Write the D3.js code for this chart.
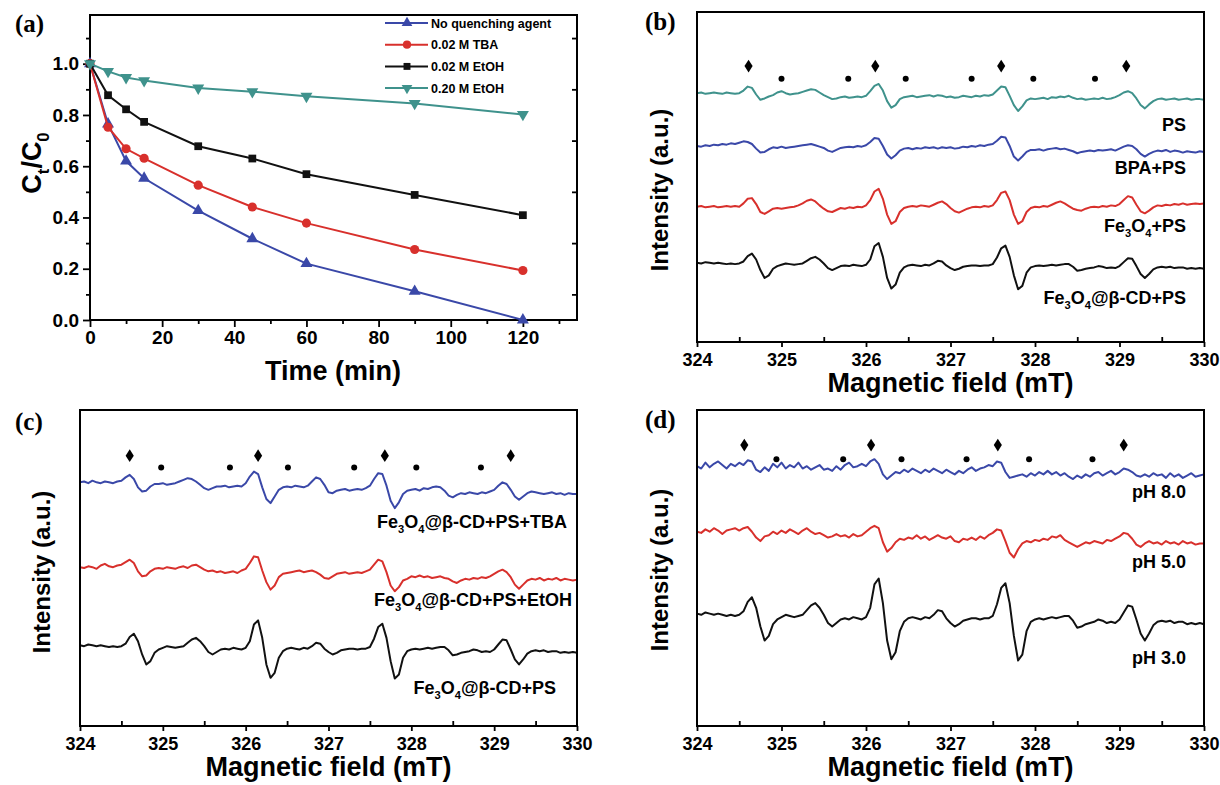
<!DOCTYPE html>
<html><head><meta charset="utf-8">
<script src="https://cdn.jsdelivr.net/npm/d3@7/dist/d3.min.js"></script>
<style>
body{margin:0;background:#fff;}
svg text{font-family:Arial,"Liberation Sans",sans-serif;font-weight:bold;fill:#000;}
</style></head><body>
<svg id="fig" width="1220" height="785"></svg>
<script>
// ---------- (a) BPA removal with radical scavengers ----------
const times = [0, 5, 10, 15, 30, 45, 60, 90, 120];
const noQuencher = [1.0, 0.765, 0.62, 0.553, 0.427, 0.317, 0.22, 0.112, 0.0];
const tba002     = [1.0, 0.752, 0.668, 0.631, 0.526, 0.441, 0.378, 0.275, 0.193];
const etoh002    = [1.0, 0.877, 0.822, 0.773, 0.678, 0.63, 0.569, 0.488, 0.409];
const etoh020    = [1.0, 0.97, 0.946, 0.934, 0.905, 0.891, 0.873, 0.845, 0.802];
const seriesNames = ["No quenching agent", "0.02 M TBA", "0.02 M EtOH", "0.20 M EtOH"];
const timeTicks = [0, 20, 40, 60, 80, 100, 120];
const timeMinor = [10, 30, 50, 70, 90, 110, 130];
const ratioTicks = [0.0, 0.2, 0.4, 0.6, 0.8, 1.0];
const ratioMinor = [0.1, 0.3, 0.5, 0.7, 0.9, 1.1];

// ---------- EPR spectra (DMPO adducts), sampled every 0.05 mT from 324 mT ----------
const fieldStart = 324, fieldStep = 0.05;
const fieldTicks = [324, 325, 326, 327, 328, 329, 330];
const fieldMinor = [324.5, 325.5, 326.5, 327.5, 328.5, 329.5];

const specCdPs = [
  3, 2, 4, 3, 2, 3, 2, 1, 2, 1,
  2, 5, 13, 17, 8, -8, -20, -16, -6, -2,
  0, 2, 1, 0, 1, 2, 6, 10, 12, 8,
  2, -5, -8, -5, -2, -1, -2, 0, -1, -2,
  0, 8, 28, 33, 12, -20, -36, -30, -12, -4,
  -1, 0, -1, -2, 0, -1, 2, 6, 5, -1,
  -5, -8, -6, -3, -2, -1, -1, -2, -1, -1,
  1, 11, 25, 29, 12, -16, -37, -32, -12, -4,
  -2, -1, -2, -1, 0, -1, 0, 1, 1, -3,
  -9, -8, -6, -5, -4, -2, -3, -5, -4, -5,
  -2, 4, 10, 9, -2, -14, -20, -14, -7, -4,
  -3, -4, -3, -5, -4, -4, -6, -5, -6, -5,
  -6];
const specPs = [
  0, 1, -1, 0, 1, 0, -1, 1, 0, -1,
  0, 4, 10, 8, -2, -10, -8, -5, -3, 1,
  3, 0, -2, -1, 0, 2, 4, 6, 5, 1,
  -3, -6, -9, -8, -6, -5, -7, -6, -5, -6,
  -4, 3, 11, 14, 4, -12, -22, -18, -9, -6,
  -5, -4, -6, -5, -4, -3, -5, -3, -4, -6,
  -5, -7, -6, -4, -5, -6, -4, -5, -3, -4,
  -2, 4, 10, 9, -4, -18, -27, -20, -11, -8,
  -9, -8, -7, -9, -6, -7, -5, -6, -4, -7,
  -9, -8, -10, -9, -8, -9, -7, -9, -8, -6,
  -3, 1, 3, 0, -8, -18, -23, -17, -12, -9,
  -8, -10, -9, -8, -10, -9, -8, -10, -9, -9,
  -10];
const specBpaPs = [
  0, -1, 1, 0, 2, 1, 3, 2, 4, 3,
  5, 7, 6, 3, -4, -10, -9, -5, -2, -3,
  -1, -3, -2, -1, 0, 1, 2, 3, 1, -1,
  -3, -7, -9, -6, -3, -2, -1, -2, 0, -1,
  1, 6, 12, 11, 0, -13, -19, -14, -7, -4,
  -3, -5, -3, -4, -2, -3, -2, -4, -2, -3,
  -2, -4, -3, -1, -2, 0, -1, 1, 0, 2,
  3, 8, 14, 13, 0, -16, -22, -16, -9, -6,
  -6, -5, -7, -5, -4, -3, -5, -4, -6, -8,
  -11, -9, -8, -7, -8, -6, -7, -6, -5, -7,
  -4, -1, 1, 0, -5, -12, -16, -12, -9, -7,
  -8, -6, -9, -7, -8, -10, -8, -9, -10, -8,
  -9];
const specFePs = [
  0, 1, -1, 0, 1, -1, 0, 1, 0, 1,
  0, 5, 12, 13, 4, -8, -11, -7, -3, -2,
  -3, -2, -1, 0, 2, 5, 9, 11, 8, 2,
  -3, -7, -8, -5, -2, -3, -1, -2, 0, -1,
  2, 10, 23, 27, 12, -12, -26, -22, -8, -2,
  0, 1, 0, 2, 1, 0, 3, 6, 8, 4,
  -2, -7, -9, -6, -3, -1, 0, -1, 1, 0,
  2, 10, 21, 23, 10, -12, -26, -22, -8, -2,
  0, -1, 1, 0, 3, 6, 8, 5, 1, -3,
  -5, -6, -3, -1, 0, -1, 1, 0, 2, 1,
  4, 10, 16, 14, 3, -7, -10, -6, -1, 2,
  1, 3, 2, 4, 3, 5, 3, 4, 5, 4,
  5];
const specTba = [
  0, 1, -1, 2, 0, -1, 1, 0, -1, 1,
  2, 6, 9, 4, -6, -11, -10, -5, -2, -2,
  -1, -3, -2, -1, 1, 3, 5, 4, 1, -3,
  -7, -9, -7, -5, -5, -4, -6, -5, -4, -5,
  -1, 7, 13, 10, -6, -20, -25, -17, -9, -6,
  -5, -6, -4, -5, -6, -4, 1, 6, 4, -3,
  -12, -13, -10, -9, -8, -10, -9, -8, -9, -7,
  -4, 4, 11, 10, -4, -22, -31, -24, -14, -10,
  -9, -8, -10, -7, -8, -6, -5, -6, -10, -16,
  -18, -15, -13, -14, -12, -13, -14, -12, -13, -11,
  -9, -4, 0, -2, -9, -17, -21, -17, -13, -11,
  -12, -13, -14, -13, -12, -14, -13, -15, -13, -14,
  -14];
const specEtoh = [
  0, -1, 1, 0, -2, 2, 4, 1, 0, 2,
  3, 6, 9, 5, -5, -11, -10, -5, -2, -1,
  -2, 0, -1, -2, 0, 1, -1, 2, 3, 0,
  -3, -5, -4, -6, -5, -7, -6, -5, -7, -4,
  -2, 5, 13, 12, -4, -18, -27, -22, -12, -8,
  -7, -6, -5, -4, -6, -5, -4, -6, -9, -13,
  -14, -11, -8, -7, -6, -8, -7, -6, -7, -5,
  -3, 3, 9, 7, -6, -22, -29, -24, -16, -14,
  -11, -12, -10, -12, -11, -13, -12, -11, -13, -14,
  -17, -19, -16, -14, -15, -13, -14, -12, -13, -11,
  -8, -5, -3, -6, -12, -21, -26, -21, -16, -14,
  -15, -13, -16, -14, -15, -13, -16, -14, -15, -16,
  -15];
const specPh8 = [
  0, -2, 3, -1, 2, 4, 1, -2, 2, 0,
  3, 1, 5, 4, -3, -5, -1, -4, 2, -1,
  3, -2, 1, -1, 3, -2, 0, -3, -1, 1,
  -3, -2, -4, 0, -3, 1, 3, -1, 0, 2,
  0, 4, 6, 2, -7, -11, -8, -5, -6, -3,
  -5, -2, -4, -6, -3, -5, -2, -4, -6, -3,
  -5, -7, -4, -6, -3, -1, -4, -2, -1, 1,
  0, 4, 3, -5, -10, -9, -8, -7, -9, -6,
  -8, -5, -7, -4, -7, -5, -8, -6, -9, -11,
  -8, -10, -7, -9, -6, -5, -8, -6, -4, -7,
  -5, -2, -3, -5, -8, -9, -7, -9, -6, -8,
  -7, -10, -6, -9, -7, -10, -8, -6, -9, -8,
  -7];
const specPh5 = [
  0, -1, 2, 0, 3, 1, -2, 1, 2, 3,
  1, 3, 4, 0, -5, -8, -4, -3, 0, -2,
  1, -1, 2, 0, -2, 1, 3, 0, -2, -1,
  -3, -5, -4, -2, -4, -3, -5, -2, -4, -3,
  0, 3, 5, 3, -9, -17, -14, -9, -6, -7,
  -5, -6, -3, -6, -4, -7, -5, -3, -5, -6,
  -4, -8, -9, -6, -7, -5, -7, -4, -6, -3,
  -1, 2, 1, -8, -18, -22, -15, -10, -8, -9,
  -7, -8, -6, -7, -4, -5, -3, -7, -9, -11,
  -13, -11, -9, -10, -8, -9, -10, -7, -8, -6,
  -4, -1, -2, -6, -11, -13, -10, -8, -10, -9,
  -11, -8, -10, -9, -11, -8, -10, -9, -11, -10,
  -10];

// stacking baselines (a.u.) for each panel, top to bottom
const offsetsB = [377, 297, 205, 117];
const offsetsC = [293, 191, 94];
const offsetsD = [222, 166, 93];
const intensityMaxB = 500, intensityMaxC = 380, intensityMaxD = 270;

// DMPO-OH (diamond) and DMPO-SO4 (dot) line positions, mT, with their heights (a.u.)
const ohLinesB = [324.61, 326.11, 327.60, 329.08];
const so4LinesB = [325.00, 325.79, 326.47, 327.25, 327.98, 328.71];
const ohLinesC = [324.60, 326.15, 327.68, 329.20];
const so4LinesC = [324.98, 325.81, 326.51, 327.31, 328.06, 328.84];
const ohLinesD = [324.56, 326.06, 327.56, 329.05];
const so4LinesD = [324.94, 325.73, 326.42, 327.19, 327.93, 328.68];
const markHeightsB = [418, 399];
const markHeightsC = [325, 311];
const markHeightsD = [240, 228];

const COL = {blue: "#3a48a8", red: "#d8302c", black: "#111111", teal: "#3f928c"};

const svg = d3.select("#fig");

function frame(L) {
  svg.append("rect").attr("x", L.x0).attr("y", L.y0)
    .attr("width", L.x1 - L.x0).attr("height", L.y1 - L.y0)
    .attr("fill", "none").attr("stroke", "#000").attr("stroke-width", 2);
}
function styleAxis(g, fs) {
  g.select(".domain").remove();
  g.attr("font-family", null).attr("font-size", null);
  g.selectAll(".tick line").attr("stroke", "#000").attr("stroke-width", 1.8);
  g.selectAll(".tick text").style("font-size", fs + "px");
}
function panelLetter(txt, x, y) {
  svg.append("text").attr("x", x).attr("y", y).text(txt)
    .style("font-family", "'Liberation Serif','Times New Roman',serif")
    .style("font-size", "25px");
}
// text with chemical subscripts: parts = [[text, isSub], ...]
function richText(x, y, parts, fs, anchor) {
  const t = svg.append("text").attr("x", x).attr("y", y)
    .attr("text-anchor", anchor).style("font-size", fs + "px");
  let shifted = false;
  parts.forEach(([s, sub]) => {
    const sp = t.append("tspan").text(s);
    if (sub && !shifted) { sp.attr("dy", fs * 0.3).style("font-size", (fs * 0.62) + "px"); shifted = true; }
    else if (sub) { sp.style("font-size", (fs * 0.62) + "px"); }
    else if (!sub && shifted) { sp.attr("dy", -fs * 0.3); shifted = false; }
  });
  return t;
}

// ================= panel (a) =================
const LA = {x0: 90, x1: 577, y0: 15, y1: 320};
const xA = d3.scaleLinear().domain([0, 135]).range([LA.x0, LA.x1]);
const yA = d3.scaleLinear().domain([0, 1.19]).range([LA.y1, LA.y0]);

svg.append("g").attr("transform", `translate(0,${LA.y1})`)
  .call(d3.axisBottom(xA).tickValues(timeTicks).tickSize(7).tickPadding(4).tickFormat(d3.format("d")))
  .call(g => styleAxis(g, 19));
svg.append("g").attr("transform", `translate(0,${LA.y1})`)
  .call(d3.axisBottom(xA).tickValues(timeMinor).tickSize(4).tickFormat(""))
  .call(g => styleAxis(g, 19));
svg.append("g").attr("transform", `translate(${LA.x0},0)`)
  .call(d3.axisLeft(yA).tickValues(ratioTicks).tickSize(7).tickPadding(4).tickFormat(d3.format(".1f")))
  .call(g => styleAxis(g, 19));
svg.append("g").attr("transform", `translate(${LA.x0},0)`)
  .call(d3.axisLeft(yA).tickValues(ratioMinor).tickSize(4).tickFormat(""))
  .call(g => styleAxis(g, 19));
svg.append("g").attr("transform", `translate(${LA.x1},0)`)
  .call(d3.axisRight(yA).tickValues(ratioMinor).tickSize(-5).tickFormat(""))
  .call(g => styleAxis(g, 19));
frame(LA);

const kinetics = [
  {vals: noQuencher, color: COL.blue, sym: d3.symbolTriangle, size: 62, rot: 0},
  {vals: tba002, color: COL.red, sym: d3.symbolCircle, size: 66, rot: 0},
  {vals: etoh002, color: COL.black, sym: d3.symbolSquare, size: 60, rot: 0},
  {vals: etoh020, color: COL.teal, sym: d3.symbolTriangle, size: 62, rot: 180}
];
const lineA = d3.line().x((d, i) => xA(times[i])).y(d => yA(d));
kinetics.forEach(s => {
  svg.append("path").datum(s.vals).attr("d", lineA)
    .attr("fill", "none").attr("stroke", s.color).attr("stroke-width", 2);
  svg.append("g").selectAll("path").data(s.vals).join("path")
    .attr("d", d3.symbol(s.sym, s.size))
    .attr("transform", (d, i) => `translate(${xA(times[i])},${yA(d)}) rotate(${s.rot})`)
    .attr("fill", s.color);
});
// legend
kinetics.forEach((s, k) => {
  const ly = 23 + k * 21.7;
  svg.append("line").attr("x1", 385).attr("x2", 428).attr("y1", ly).attr("y2", ly)
    .attr("stroke", s.color).attr("stroke-width", 2);
  svg.append("path").attr("d", d3.symbol(s.sym, s.size * 0.8))
    .attr("transform", `translate(407,${ly}) rotate(${s.rot})`).attr("fill", s.color);
  svg.append("text").attr("x", 431).attr("y", ly + 4.5).text(seriesNames[k])
    .style("font-size", "12.5px");
});
panelLetter("(a)", 15, 32);
svg.append("text").attr("x", 333).attr("y", 380)
  .attr("text-anchor", "middle").style("font-size", "27px").text("Time (min)");
richText(0, 0, [["C", false], ["t", true], ["/C", false], ["0", true]], 27, "middle")
  .attr("transform", "translate(41,163) rotate(-90)");

// ================= EPR panels =================
function spectraPanel(L, yMax, traces, offsets, ohLines, so4Lines, markH, letter, letterPos, ylabelX, ylabelY, titleY) {
  const x = d3.scaleLinear().domain([324, 330]).range([L.x0, L.x1]);
  const y = d3.scaleLinear().domain([0, yMax]).range([L.y1, L.y0]);
  svg.append("g").attr("transform", `translate(0,${L.y1})`)
    .call(d3.axisBottom(x).tickValues(fieldTicks).tickSize(5).tickPadding(6).tickFormat(d3.format("d")))
    .call(g => styleAxis(g, 18));
  svg.append("g").attr("transform", `translate(0,${L.y1})`)
    .call(d3.axisBottom(x).tickValues(fieldMinor).tickSize(-5).tickFormat(""))
    .call(g => styleAxis(g, 18));
  traces.forEach((t, k) => {
    const line = d3.line()
      .x((d, i) => x(fieldStart + i * fieldStep))
      .y(d => y(offsets[k] + d));
    svg.append("path").datum(t.vals).attr("d", line)
      .attr("fill", "none").attr("stroke", t.color).attr("stroke-width", 2)
      .attr("stroke-linejoin", "round");
    richText(t.lx, t.ly, t.label, 18, "end");
  });
  svg.append("g").selectAll("path").data(ohLines).join("path")
    .attr("d", d3.symbol(d3.symbolDiamond, 52))
    .attr("transform", d => `translate(${x(d)},${y(markH[0])}) scale(1.05,0.95)`).attr("fill", "#000");
  svg.append("g").selectAll("circle").data(so4Lines).join("circle")
    .attr("cx", d => x(d)).attr("cy", d => y(markH[1])).attr("r", 3).attr("fill", "#000");
  frame(L);
  panelLetter(letter, letterPos[0], letterPos[1]);
  svg.append("text").attr("transform", `translate(${ylabelX},${ylabelY}) rotate(-90)`)
    .attr("text-anchor", "middle").style("font-size", "24px").text("Intensity (a.u.)");
  svg.append("text").attr("x", (L.x0 + L.x1) / 2).attr("y", titleY)
    .attr("text-anchor", "middle").style("font-size", "27px").text("Magnetic field (mT)");
}

const fe3o4 = [["Fe", false], ["3", true], ["O", false], ["4", true]];

const LB = {x0: 697, x1: 1204, y0: 12, y1: 342};
spectraPanel(LB, intensityMaxB, [
  {vals: specPs, color: COL.teal, label: [["PS", false]], lx: 1186, ly: 131},
  {vals: specBpaPs, color: COL.blue, label: [["BPA+PS", false]], lx: 1186, ly: 174},
  {vals: specFePs, color: COL.red, label: fe3o4.concat([["+PS", false]]), lx: 1186, ly: 232},
  {vals: specCdPs, color: COL.black, label: fe3o4.concat([["@β-CD+PS", false]]), lx: 1186, ly: 304}
], offsetsB, ohLinesB, so4LinesB, markHeightsB, "(b)", [645, 30], 668, 190, 392);

const LC = {x0: 80, x1: 577, y0: 410, y1: 726};
spectraPanel(LC, intensityMaxC, [
  {vals: specTba, color: COL.blue, label: fe3o4.concat([["@β-CD+PS+TBA", false]]), lx: 567, ly: 528},
  {vals: specEtoh, color: COL.red, label: fe3o4.concat([["@β-CD+PS+EtOH", false]]), lx: 572, ly: 606},
  {vals: specCdPs, color: COL.black, label: fe3o4.concat([["@β-CD+PS", false]]), lx: 556, ly: 694}
], offsetsC, ohLinesC, so4LinesC, markHeightsC, "(c)", [15, 430], 50, 572, 776);

const LD = {x0: 697, x1: 1204, y0: 410, y1: 726};
spectraPanel(LD, intensityMaxD, [
  {vals: specPh8, color: COL.blue, label: [["pH 8.0", false]], lx: 1186, ly: 498},
  {vals: specPh5, color: COL.red, label: [["pH 5.0", false]], lx: 1186, ly: 568},
  {vals: specCdPs, color: COL.black, label: [["pH 3.0", false]], lx: 1186, ly: 664}
], offsetsD, ohLinesD, so4LinesD, markHeightsD, "(d)", [645, 428], 668, 570, 776);
</script>
</body></html>
